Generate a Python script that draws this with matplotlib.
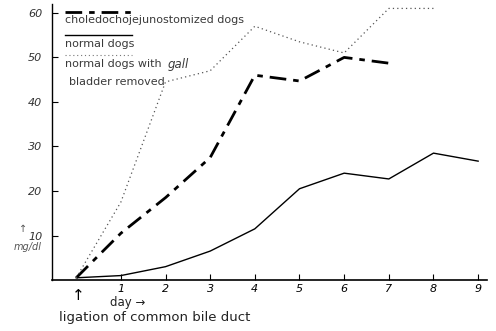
import matplotlib
matplotlib.use('Agg')
import matplotlib.pyplot as plt

# bilirubin-ish values (mg/dl by day after ligation)
days = [0, 1, 2, 3, 4, 5, 6, 7, 8, 9]
normal = [0.5, 1.0, 3.0, 6.5, 11.5, 20.5, 24.0, 22.7, 28.5, 26.7]
choledocho_days = [0, 1, 2, 3, 4, 5, 6, 7]
choledocho = [0.5, 10.5, 18.5, 27.5, 46.0, 44.7, 50.0, 48.7]
gall_days = [0, 1, 2, 3, 4, 5, 6, 7, 8]
gall_removed = [0.5, 17.5, 44.5, 47.0, 57.0, 53.5, 51.0, 61.0, 61.0]

xticks = [1, 2, 3, 4, 5, 6, 7, 8, 9]
yticks = [10, 20, 30, 40, 50, 60]

fig = plt.figure(figsize=(4.96, 3.31), dpi=100)
ax = fig.add_axes([0.105, 0.154, 0.877, 0.834])

dashdot = (0, (6, 2.5, 2, 2.5))
ax.plot(days, normal, color='black', lw=1.0)
ax.plot(choledocho_days, choledocho, color='black', lw=2.0, linestyle=dashdot)
ax.plot(gall_days, gall_removed, color='#555555', lw=0.9, linestyle=(0, (1, 2.5)))

ax.set_xlim(-0.54, 9.2)
ax.set_ylim(0, 62)
for s in ['top', 'right']:
    ax.spines[s].set_visible(False)
ax.spines['left'].set_linewidth(1.0)
ax.spines['bottom'].set_linewidth(1.2)

ax.set_xticks(xticks)
ax.set_xticklabels([str(d) for d in xticks], fontstyle='italic', fontsize=8)
ax.set_yticks(yticks)
ax.set_yticklabels([str(v) for v in yticks], fontstyle='italic', fontsize=8, color='#333333')
ax.tick_params(direction='in', length=4, width=0.8)
ax.tick_params(axis='x', pad=3)
ax.tick_params(axis='y', pad=7)

# legend drawn by hand like the original figure
txt = '#3a3a3a'
ax.plot([-0.25, 1.25], [60.2, 60.2], color='black', lw=2.0, linestyle=dashdot, clip_on=False)
ax.text(-0.25, 58.5, 'choledochojejunostomized dogs', fontsize=8, color=txt, va='center')
ax.plot([-0.25, 1.25], [55.0, 55.0], color='black', lw=1.0, clip_on=False)
ax.text(-0.25, 53.0, 'normal dogs', fontsize=8, color=txt, va='center')
ax.plot([-0.25, 1.25], [50.5, 50.5], color='#777777', lw=0.8, linestyle=(0, (1, 2.5)), clip_on=False)
ax.text(-0.25, 48.5, 'normal dogs with ', fontsize=8, color=txt, va='center')
ax.text(2.05, 48.5, 'gall', fontsize=8.5, color=txt, va='center', fontstyle='italic')
ax.text(-0.15, 44.5, 'bladder removed', fontsize=8, color=txt, va='center')

# y label
fig.text(0.046, 0.30, '\u2191', fontsize=7, color='#555555', ha='center')
fig.text(0.055, 0.245, 'mg/dl', fontsize=7, color='#555555', ha='center', fontstyle='italic')

# annotation under the axis
fig.text(0.157, 0.095, '\u2191', fontsize=11, color='black', ha='center')
fig.text(0.222, 0.075, 'day \u2192', fontsize=8.5, color='#222222', ha='left')
fig.text(0.118, 0.03, 'ligation of common bile duct', fontsize=9.5, color='#222222', ha='left')

fig.savefig('out.png', dpi=100)
